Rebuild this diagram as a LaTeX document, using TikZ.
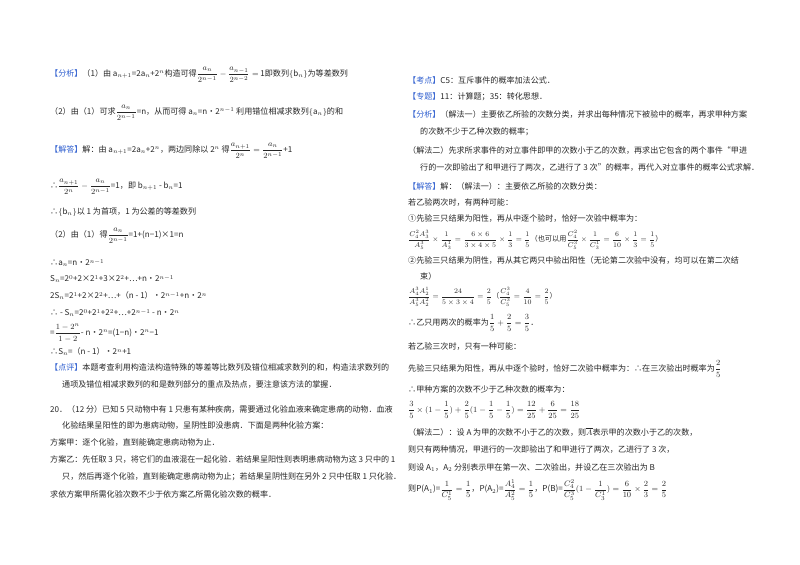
\documentclass[tikz,border=0pt]{standalone}
\usepackage{fontspec}
\usepackage{amsmath,amssymb}
\setmainfont{Noto Sans CJK SC}
\definecolor{tagblue}{HTML}{2F5FD0}
\newcommand{\tg}[1]{{\color{tagblue}【#1】}}
\begin{document}
\begin{tikzpicture}[x=1bp,y=-1bp,
 t/.style={anchor=west,inner sep=0pt,font=\fontsize{8.1}{10}\selectfont,text=black!85},
 ts/.style={t,font=\fontsize{7.2}{9}\selectfont}]
\useasboundingbox (0,0) rectangle (800,565);
\fill[white] (0,0) rectangle (800,565);
% left column
\node[t] (l1) at (50,75) {\tg{分析}（1）由 a$_{n+1}$=2a$_n$+2$^n$构造可得$\dfrac{a_n}{2^{n-1}}-\dfrac{a_{n-1}}{2^{n-2}}=$ 1即数列$\{$b$_n\}$为等差数列};
\node[t] (l2) at (50,113) {（2）由（1）可求$\dfrac{a_n}{2^{n-1}}$=n，从而可得 a$_n$=n•2$^{n-1}$ 利用错位相减求数列$\{$a$_n\}$的和};
\node[t] (l3) at (50,151) {\tg{解答}解：由 a$_{n+1}$=2a$_n$+2$^n$，两边同除以 2$^n$ 得$\dfrac{a_{n+1}}{2^n}=\dfrac{a_n}{2^{n-1}}$+1};
\node[t] (l4) at (50,187) {∴$\dfrac{a_{n+1}}{2^n}-\dfrac{a_n}{2^{n-1}}$=1，即 b$_{n+1}$ - b$_n$=1};
\node[t] (l5) at (50,212) {∴$\{$b$_n\}$以 1 为首项，1 为公差的等差数列};
\node[t] (l6) at (50,236) {（2）由（1）得$\dfrac{a_n}{2^{n-1}}$=1+(n−1)×1=n};
\node[t] (l7) at (50,263) {∴a$_n$=n•2$^{n-1}$};
\node[t] (l8) at (50,279) {S$_n$=2$^0$+2×2$^1$+3×2$^2$+…+n•2$^{n-1}$};
\node[t] (l9) at (50,296) {2S$_n$=2$^1$+2×2$^2$+…+（n - 1）•2$^{n-1}$+n•2$^n$};
\node[t] (l10) at (50,313) {∴ - S$_n$=2$^0$+2$^1$+2$^2$+…+2$^{n-1}$ - n•2$^n$};
\node[t] (l11) at (50,333) {=$\dfrac{1-2^n}{1-2}$- n•2$^n$=(1−n)•2$^n$−1};
\node[t] (l12) at (50,352) {∴S$_n$=（n - 1）•2$^n$+1};
\node[t] (l13) at (50,368) {\tg{点评}本题考查利用构造法构造特殊的等差等比数列及错位相减求数列的和，构造法求数列的};
\node[t] (l14) at (62,385) {通项及错位相减求数列的和是数列部分的重点及热点，要注意该方法的掌握．};
\node[t] (l15) at (50,409) {20．（12 分）已知 5 只动物中有 1 只患有某种疾病，需要通过化验血液来确定患病的动物．血液};
\node[t] (l16) at (62,426) {化验结果呈阳性的即为患病动物，呈阴性即没患病．下面是两种化验方案：};
\node[t] (l17) at (50,443) {方案甲：逐个化验，直到能确定患病动物为止．};
\node[t] (l18) at (50,460) {方案乙：先任取 3 只，将它们的血液混在一起化验．若结果呈阳性则表明患病动物为这 3 只中的 1};
\node[t] (l19) at (62,477) {只，然后再逐个化验，直到能确定患病动物为止；若结果呈阴性则在另外 2 只中任取 1 只化验．};
\node[t] (l20) at (50,494) {求依方案甲所需化验次数不少于依方案乙所需化验次数的概率．};
% right column
\node[t] (r1) at (408,80) {\tg{考点}C5：互斥事件的概率加法公式．};
\node[t] (r2) at (408,97) {\tg{专题}11：计算题；35：转化思想．};
\node[t] (r3) at (408,114) {\tg{分析}（解法一）主要依乙所验的次数分类，并求出每种情况下被验中的概率，再求甲种方案};
\node[t] (r4) at (420,132) {的次数不少于乙种次数的概率；};
\node[t] (r5) at (408,150) {（解法二）先求所求事件的对立事件即甲的次数小于乙的次数，再求出它包含的两个事件“甲进};
\node[t] (r6) at (420,168) {行的一次即验出了和甲进行了两次，乙进行了 3 次”的概率，再代入对立事件的概率公式求解．};
\node[t] (r7) at (408,186) {\tg{解答}解：（解法一）：主要依乙所验的次数分类：};
\node[t] (r8) at (408,203) {若乙验两次时，有两种可能：};
\node[t] (r9) at (408,219) {①先验三只结果为阳性，再从中逐个验时，恰好一次验中概率为：};
\node[ts] (r10) at (408,240) {$\dfrac{C_4^2A_3^3}{A_5^3}\times\dfrac{1}{A_3^1}=\dfrac{6\times6}{3\times4\times5}\times\dfrac13=\dfrac15$（也可以用$\dfrac{C_4^2}{C_5^3}\times\dfrac{1}{C_3^1}=\dfrac{6}{10}\times\dfrac13=\dfrac15$）};
\node[t] (r11) at (408,260) {②先验三只结果为阴性，再从其它两只中验出阳性（无论第二次验中没有，均可以在第二次结};
\node[t] (r12) at (420,276) {束）};
\node[ts] (r13) at (408,297) {$\dfrac{A_4^3A_2^1}{A_5^3A_2^2}=\dfrac{24}{5\times3\times4}=\dfrac25$（$\dfrac{C_4^3}{C_5^3}=\dfrac{4}{10}=\dfrac25$）};
\node[t] (r14) at (408,323) {∴乙只用两次的概率为$\dfrac15+\dfrac25=\dfrac35$．};
\node[t] (r15) at (408,347) {若乙验三次时，只有一种可能：};
\node[t] (r16) at (408,369) {先验三只结果为阳性，再从中逐个验时，恰好二次验中概率为：∴在三次验出时概率为$\dfrac25$};
\node[t] (r17) at (408,389) {∴甲种方案的次数不少于乙种次数的概率为：};
\node[t] (r18) at (408,410) {$\dfrac35\times(1-\dfrac15)+\dfrac25(1-\dfrac15-\dfrac15)=\dfrac{12}{25}+\dfrac{6}{25}=\dfrac{18}{25}$};
\node[t] (r19) at (408,432) {（解法二）：设 A 为甲的次数不小于乙的次数，则$\overline{A}$表示甲的次数小于乙的次数，};
\node[t] (r20) at (408,450) {则只有两种情况，甲进行的一次即验出了和甲进行了两次，乙进行了 3 次，};
\node[t] (r21) at (408,468) {则设 A$_1$，A$_2$ 分别表示甲在第一次、二次验出，并设乙在三次验出为 B};
\node[t] (r22) at (408,490) {则P(A$_1$)=$\dfrac{1}{C_5^1}=\dfrac15$，P(A$_2$)=$\dfrac{A_4^1}{A_5^2}=\dfrac15$，P(B)=$\dfrac{C_4^2}{C_5^3}(1-\dfrac{1}{C_3^1})=\dfrac{6}{10}\times\dfrac23=\dfrac25$};
\end{tikzpicture}
\end{document}
